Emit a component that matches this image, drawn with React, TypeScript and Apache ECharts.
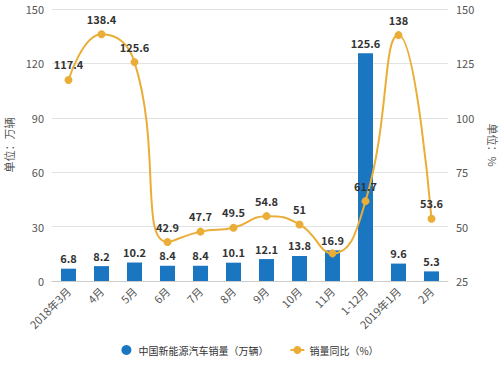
import React, { useEffect, useRef } from "react";
import * as echarts from "echarts";

const categories = ["2018年3月", "4月", "5月", "6月", "7月", "8月", "9月", "10月", "11月", "1-12月", "2019年1月", "2月"];
const salesValues = [6.8, 8.2, 10.2, 8.4, 8.4, 10.1, 12.1, 13.8, 16.9, 125.6, 9.6, 5.3];
const yoyValues = [117.4, 138.4, 125.6, 42.9, 47.7, 49.5, 54.8, 51, 37.7, 61.7, 138, 53.6];
const hiddenYoyLabels = [8];
const leftTicks = { min: 0, max: 150, interval: 30 };
const rightTicks = { min: 25, max: 150, interval: 25 };

export default function App() {
  const ref = useRef<HTMLDivElement>(null);
  useEffect(() => {
    document.body.style.margin = "0";
    if (!ref.current) return;
    const chart = echarts.init(ref.current, null, { renderer: "svg" });
    const labelStyle = { show: true, position: "top", fontSize: 11, fontWeight: "bold", color: "#333", fontFamily: "Noto Sans CJK SC" };
    chart.setOption({
      animation: false,
      textStyle: { fontFamily: "Noto Sans CJK SC" },
      grid: { left: 52, right: 52, top: 9, bottom: 100, containLabel: false, outerBoundsMode: "none" },
      legend: {
        bottom: 21,
        left: "center",
        itemGap: 21,
        itemWidth: 14,
        itemHeight: 10,
        textStyle: { fontSize: 10, color: "#333" },
        data: [
          { name: "中国新能源汽车销量（万辆）", icon: "circle" },
          { name: "销量同比（%）" },
        ],
      },
      xAxis: {
        type: "category",
        data: categories,
        axisTick: { alignWithLabel: true, lineStyle: { color: "#999" } },
        axisLine: { lineStyle: { color: "#ccc" } },
        axisLabel: { rotate: 45, fontSize: 11, color: "#555", interval: 0 },
      },
      yAxis: [
        {
          type: "value",
          ...leftTicks,
          name: "单位：万辆",
          nameLocation: "middle",
          nameRotate: 90,
          nameGap: 38,
          nameTextStyle: { fontSize: 11, color: "#555" },
          axisLine: { show: false },
          axisTick: { show: false },
          axisLabel: { fontSize: 11, color: "#555" },
          splitLine: { lineStyle: { color: "#e3e3e3" } },
        },
        {
          type: "value",
          ...rightTicks,
          name: "单位：%",
          nameLocation: "middle",
          nameRotate: -90,
          nameGap: 40,
          nameTextStyle: { fontSize: 11, color: "#555" },
          axisLine: { show: false },
          axisTick: { show: false },
          axisLabel: { fontSize: 11, color: "#555" },
          splitLine: { show: false },
        },
      ],
      series: [
        {
          name: "中国新能源汽车销量（万辆）",
          type: "bar",
          data: salesValues,
          barWidth: 15,
          itemStyle: { color: "#1b76c1" },
          label: labelStyle,
        },
        {
          name: "销量同比（%）",
          type: "line",
          yAxisIndex: 1,
          smooth: 0.5,
          symbol: "circle",
          symbolSize: 8,
          data: yoyValues.map((v, i) =>
            hiddenYoyLabels.includes(i) ? { value: v, label: { show: false } } : v
          ),
          itemStyle: { color: "#eaae38" },
          lineStyle: { color: "#eaae38", width: 2 },
          label: { ...labelStyle, distance: 6 },
        },
      ],
    });
    return () => chart.dispose();
  }, []);
  return <div ref={ref} style={{ width: 500, height: 381 }} />;
}
